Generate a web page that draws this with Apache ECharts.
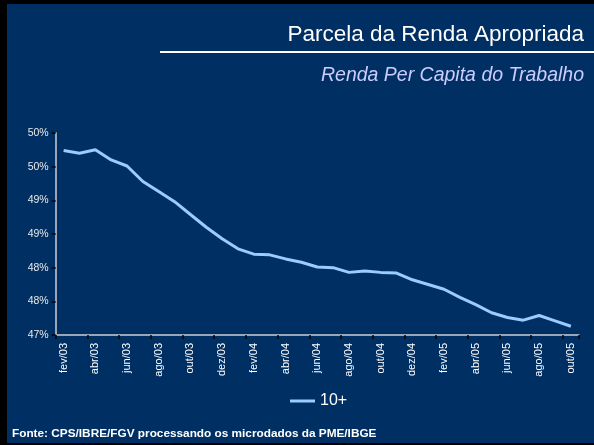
<!DOCTYPE html>
<html>
<head>
<meta charset="utf-8">
<script src="https://cdn.jsdelivr.net/npm/echarts@6/dist/echarts.min.js"></script>
<style>
html,body{margin:0;padding:0;background:#000;}
#c{width:594px;height:445px;}
</style>
</head>
<body>
<div id="c"></div>
<script>
var categories = ['fev/03','mar/03','abr/03','mai/03','jun/03','jul/03','ago/03','set/03','out/03','nov/03','dez/03',
  'jan/04','fev/04','mar/04','abr/04','mai/04','jun/04','jul/04','ago/04','set/04','out/04','nov/04','dez/04',
  'jan/05','fev/05','mar/05','abr/05','mai/05','jun/05','jul/05','ago/05','set/05','out/05'];
var seriesName = '10+';
var values = [49.74,49.70,49.75,49.60,49.51,49.28,49.13,48.98,48.79,48.60,48.43,
  48.28,48.20,48.19,48.13,48.08,48.01,48.00,47.93,47.95,47.93,47.92,47.82,
  47.75,47.68,47.56,47.45,47.33,47.26,47.22,47.29,47.21,47.13];
var yMin = 47, yMax = 50, yStep = 0.5;
var titleText = 'Parcela da Renda Apropriada';
var subtitleText = 'Renda Per Capita do Trabalho';
var sourceText = 'Fonte: CPS/IBRE/FGV processando os microdados da PME/IBGE';

var FONT = '"Liberation Sans", Arial, sans-serif';
var chart = echarts.init(document.getElementById('c'), null, {renderer: 'canvas'});
chart.setOption({
  backgroundColor: '#000000',
  animation: false,
  graphic: [
    {type: 'rect', left: 7, top: 4, shape: {width: 587, height: 439}, style: {fill: '#003063'}, z: -10},
    {type: 'rect', left: 160, top: 51, shape: {width: 434, height: 2}, style: {fill: '#ffffff'}}
  ],
  title: [
    {text: titleText, right: 10, top: 23, textStyle: {color: '#ffffff', fontFamily: FONT, fontSize: 22.5, fontWeight: 'normal'}, padding: 0},
    {text: subtitleText, right: 10, top: 66, textStyle: {color: '#ccccff', fontFamily: FONT, fontSize: 19.5, fontStyle: 'italic', fontWeight: 'normal'}, padding: 0},
    {text: sourceText, left: 12, top: 428, textStyle: {color: '#ffffff', fontFamily: FONT, fontSize: 11.8, fontWeight: 'bold'}, padding: 0}
  ],
  legend: {
    data: [seriesName], left: 290, top: 393, icon: 'rect', itemWidth: 25, itemHeight: 3, itemGap: 4,
    textStyle: {color: '#ffffff', fontFamily: FONT, fontSize: 16}, padding: 0
  },
  grid: {left: 55.7, right: 15.2, top: 133, bottom: 110, containLabel: false},
  xAxis: {
    type: 'category', data: categories, boundaryGap: true,
    axisLine: {lineStyle: {color: '#9aa6b8', width: 2}},
    axisTick: {show: true, interval: 1, length: 4, lineStyle: {color: '#000000', width: 1.5}},
    axisLabel: {interval: 1, rotate: 90, color: '#ffffff', fontFamily: FONT, fontSize: 11, margin: 8}
  },
  yAxis: {
    type: 'value', min: yMin, max: yMax, interval: yStep,
    axisLine: {show: true, lineStyle: {color: '#9aa6b8', width: 2}},
    axisTick: {show: true, length: 4, lineStyle: {color: '#000000', width: 1.5}},
    splitLine: {show: false},
    axisLabel: {color: '#e8e8e8', fontFamily: FONT, fontSize: 10.5, margin: 7, formatter: function (v) { return Math.round(v) + '%'; }}
  },
  series: [{
    name: seriesName, type: 'line', data: values, showSymbol: false, symbol: 'none',
    lineStyle: {color: '#99ccff', width: 3}, itemStyle: {color: '#99ccff'}
  }]
});
</script>
</body>
</html>
